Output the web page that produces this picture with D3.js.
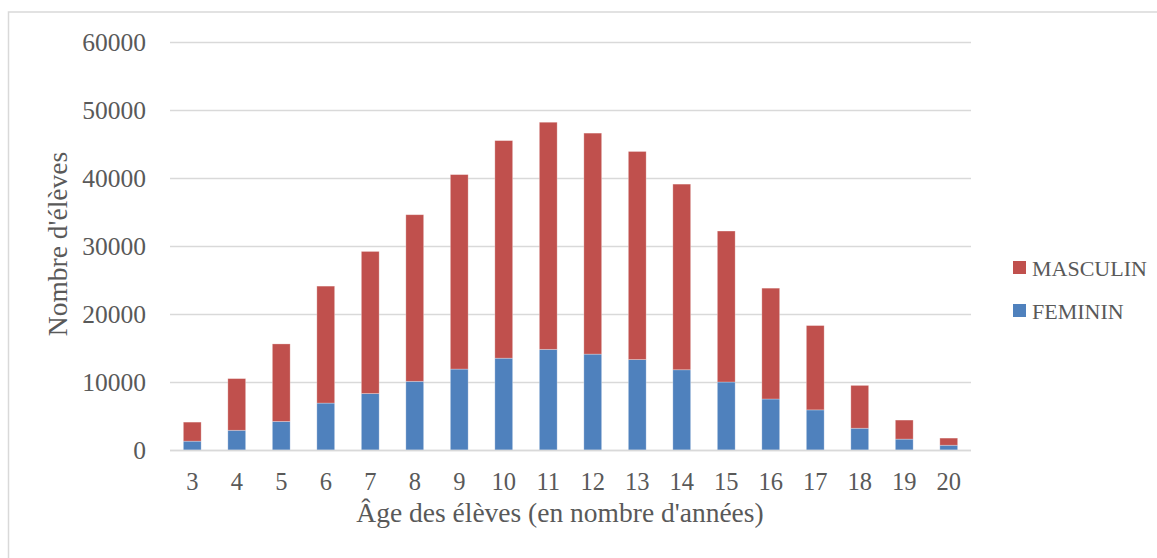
<!DOCTYPE html>
<html>
<head>
<meta charset="utf-8">
<script src="https://cdn.jsdelivr.net/npm/d3@7"></script>
<style>
  html, body { margin: 0; padding: 0; background: #fff; }
  svg { display: block; }
  text { font-family: "Liberation Serif", "Times New Roman", serif; fill: #595959; }
</style>
</head>
<body>
<svg id="chart" width="1157" height="558"></svg>
<script>
const ages = ["3","4","5","6","7","8","9","10","11","12","13","14","15","16","17","18","19","20"];
const feminin = [1300, 2900, 4200, 6900, 8300, 10100, 11900, 13500, 14800, 14100, 13300, 11800, 10000, 7500, 5900, 3200, 1600, 700];
const totals  = [4100, 10500, 15600, 24100, 29200, 34600, 40500, 45500, 48200, 46600, 43900, 39100, 32200, 23800, 18300, 9500, 4400, 1750];
const masculin = totals.map((t, i) => t - feminin[i]);
const yTicks = [0, 10000, 20000, 30000, 40000, 50000, 60000];
const seriesNames = ["FEMININ", "MASCULIN"];
const seriesColors = ["#4F81BD", "#C0504D"];

const svg = d3.select("#chart");
const plot = {left: 170, right: 971, top: 42, bottom: 450};

// outer frame
svg.append("rect").attr("x", 8.5).attr("y", 12).attr("width", 1160).attr("height", 560)
  .attr("fill", "none").attr("stroke", "#d9d9d9").attr("stroke-width", 1.5);

const x = d3.scaleBand().domain(ages).range([plot.left, plot.right]).paddingInner(0.6).paddingOuter(0.3);
const y = d3.scaleLinear().domain([0, 60000]).range([plot.bottom, plot.top]);

// gridlines
svg.append("g").selectAll("line").data(yTicks).join("line")
  .attr("x1", plot.left).attr("x2", plot.right)
  .attr("y1", d => Math.round(y(d)) + 0.5).attr("y2", d => Math.round(y(d)) + 0.5)
  .attr("stroke", "#d9d9d9").attr("stroke-width", 1.3);

// y axis labels
const yAxis = d3.axisLeft(y).tickValues(yTicks).tickSize(0).tickPadding(0).tickFormat(d3.format("d"));
const gy = svg.append("g").attr("transform", `translate(146,0)`).call(yAxis);
gy.select(".domain").remove();
gy.selectAll("text").attr("font-size", 25.5).attr("fill", "#595959")
  .attr("font-family", "Liberation Serif, serif").attr("dy", "0.34em");

// stacked bars
const data = ages.map((a, i) => ({age: a, FEMININ: feminin[i], MASCULIN: masculin[i]}));
const stack = d3.stack().keys(seriesNames)(data);
svg.append("g").selectAll("g").data(stack).join("g")
  .attr("fill", (d, i) => seriesColors[i])
  .selectAll("rect").data(d => d).join("rect")
  .attr("x", d => x(d.data.age))
  .attr("width", x.bandwidth())
  .attr("y", d => y(d[1]))
  .attr("height", d => y(d[0]) - y(d[1]))
  .attr("stroke", "#ffffff").attr("stroke-opacity", 0.35).attr("stroke-width", 0.8);

// baseline
svg.append("line").attr("x1", plot.left).attr("x2", plot.right)
  .attr("y1", plot.bottom + 0.5).attr("y2", plot.bottom + 0.5)
  .attr("stroke", "#d9d9d9").attr("stroke-width", 1.5);

// x axis labels
const xAxis = d3.axisBottom(x).tickSize(0).tickPadding(0);
const gx = svg.append("g").attr("transform", `translate(0,490)`).call(xAxis);
gx.select(".domain").remove();
gx.selectAll("text").attr("font-size", 24.5).attr("fill", "#595959")
  .attr("font-family", "Liberation Serif, serif").attr("dy", 0);

// axis titles
svg.append("text").attr("x", 560).attr("y", 522)
  .attr("text-anchor", "middle").attr("font-size", 27.5).text("Âge des élèves (en nombre d'années)");
svg.append("text").attr("transform", `translate(67,${(plot.top + plot.bottom) / 2 - 2}) rotate(-90)`)
  .attr("text-anchor", "middle").attr("font-size", 27.5).text("Nombre d'élèves");

// legend
const legendItems = [{name: "MASCULIN", color: seriesColors[1], y: 261}, {name: "FEMININ", color: seriesColors[0], y: 304}];
const lg = svg.append("g");
lg.selectAll("rect").data(legendItems).join("rect")
  .attr("x", 1013).attr("y", d => d.y).attr("width", 13).attr("height", 13).attr("fill", d => d.color);
lg.selectAll("text").data(legendItems).join("text")
  .attr("x", 1032).attr("y", d => d.y + 14.5).attr("font-size", 22).text(d => d.name);
</script>
</body>
</html>
